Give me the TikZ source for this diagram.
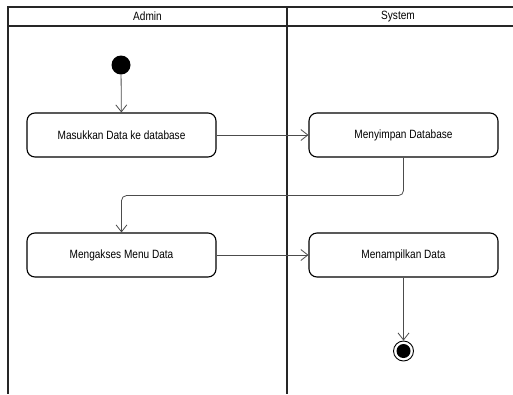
\documentclass[tikz,border=0pt]{standalone}
\usepackage{fontspec}
\setmainfont[FakeStretch=0.84]{Liberation Sans}
\usetikzlibrary{arrows.meta}

\begin{document}
\begin{tikzpicture}[x=1pt,y=-1pt,
    every node/.style={font=\fontsize{12}{14}\selectfont},
    lane/.style={line width=1.6pt, black!85},
    action/.style={draw, line width=1.1pt, rounded corners=8pt,
      minimum width=189pt, minimum height=44pt},
    flow/.style={draw=black!70, line width=0.8pt,
      -{Straight Barb[length=7pt,width=11pt]}}]
  \useasboundingbox (0,0) rectangle (513,394);

  % swimlanes
  \draw[lane] (513,7) -- (8,7) -- (8,394);
  \draw[lane] (8,26) -- (513,26);
  \draw[lane] (287,7) -- (287,394);
  \node (admin) at (147.5,16.5) {Admin};
  \node (system) at (398,16.5) {System};

  \node[circle, fill, minimum size=19pt, inner sep=0pt] (start) at (121,65) {};

  \node[action] (input) at (121.5,135) {Masukkan Data ke database};
  \node[action] (store) at (403.5,135) {Menyimpan Database};
  \node[action] (access) at (121.5,255) {Mengakses Menu Data};
  \node[action] (show) at (403.5,255) {Menampilkan Data};

  \node[circle, draw, line width=0.9pt, minimum size=20pt, inner sep=0pt] (end) at (403.5,351) {};
  \node[circle, fill, minimum size=14pt, inner sep=0pt] (endDot) at (end) {};

  \draw[flow] (start) -- (input);
  \draw[flow] (input) -- (store);
  \draw[flow, rounded corners=5pt] (store.south) -- ++(0,38) -| (access.north);
  \draw[flow] (access) -- (show);
  \draw[flow] (show) -- (end);
\end{tikzpicture}
\end{document}
